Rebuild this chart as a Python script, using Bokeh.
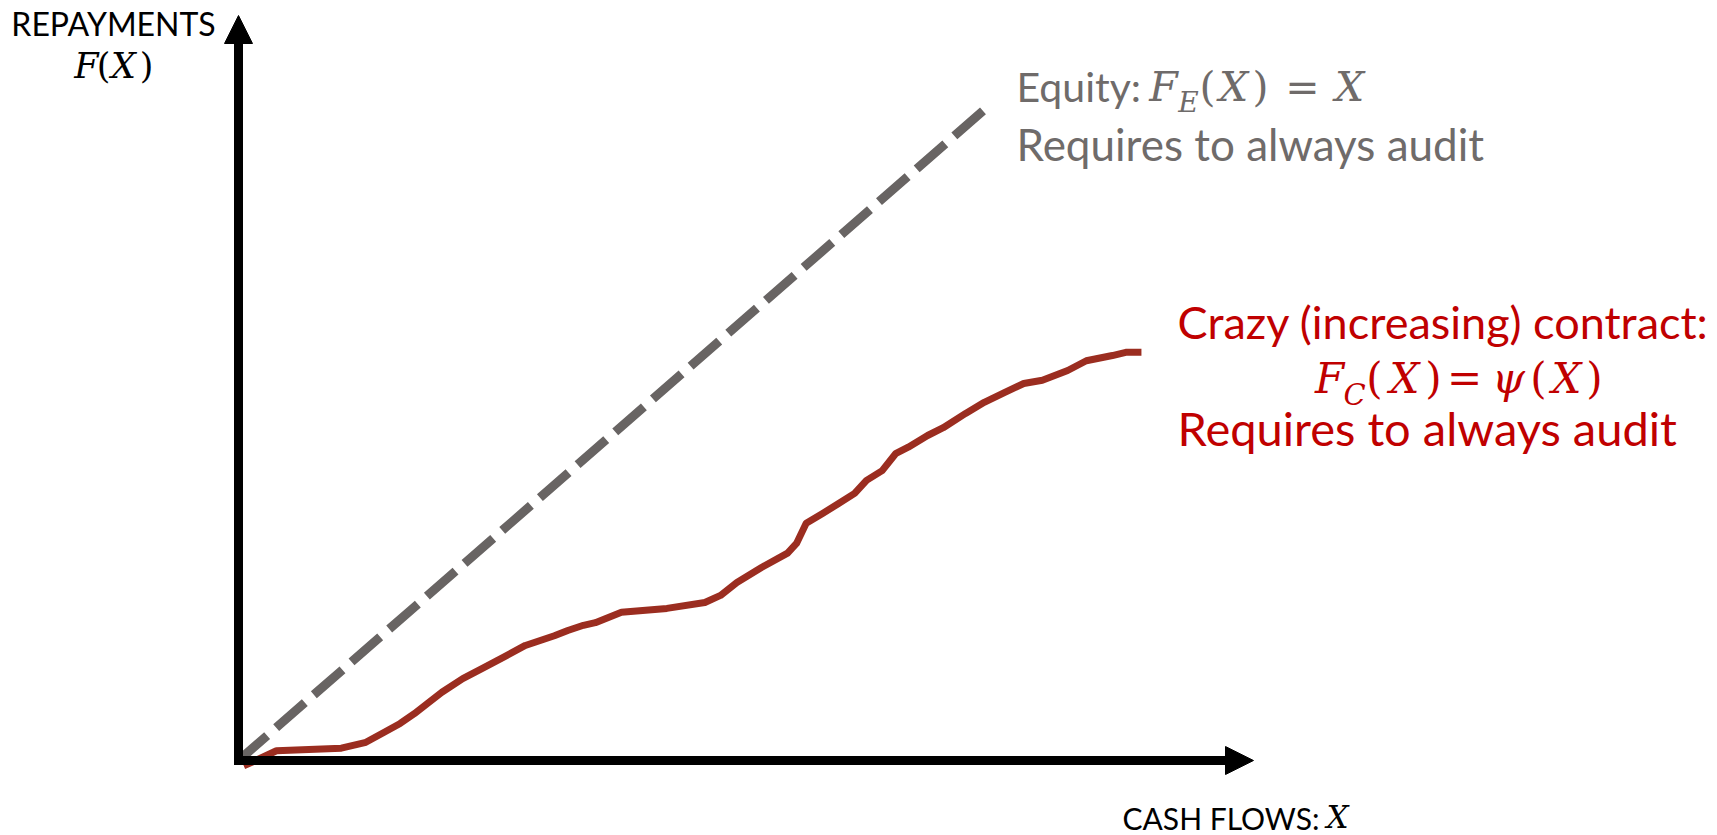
from bokeh.plotting import figure
from bokeh.models import Range1d, Arrow, NormalHead, Label
from bokeh.embed import file_html
from bokeh.resources import INLINE

# ---------------- data ----------------
# Equity contract F_E(X) = X
equity_x = [0.0, 10.0]
equity_f = [0.0, 10.0]

# "Crazy" increasing contract psi(X)
crazy_x = [0.07, 0.23, 0.51, 1.38, 1.71, 1.95, 2.17, 2.36, 2.54, 2.73, 3.01, 3.28,
           3.56, 3.85, 4.24, 4.42, 4.63, 4.79, 5.14, 5.75, 6.26, 6.47, 6.69, 7.02,
           7.37, 7.49, 7.62, 7.84, 8.05, 8.27, 8.43, 8.64, 8.82, 8.99, 9.25, 9.46,
           9.76, 10.01, 10.28, 10.54, 10.79, 11.13, 11.38, 11.73, 11.91, 12.12]
crazy_f = [-0.08, 0.00, 0.15, 0.19, 0.28, 0.43, 0.57, 0.72, 0.88, 1.05, 1.26, 1.42,
           1.59, 1.77, 1.92, 2.00, 2.08, 2.12, 2.28, 2.34, 2.43, 2.54, 2.74, 2.97,
           3.19, 3.34, 3.65, 3.80, 3.95, 4.11, 4.31, 4.46, 4.72, 4.82, 5.00, 5.12,
           5.34, 5.51, 5.66, 5.80, 5.85, 6.00, 6.15, 6.23, 6.28, 6.28]

# ---------------- layout ----------------
W, H = 1717, 835
OX, OY = 238.0, 760.0      # page pixel of the origin
SX, SY = 74.5, 65.0        # pixels per data unit


def X(px):
    return (px - OX) / SX


def Y(py):
    return (OY - py) / SY


p = figure(width=W, height=H, output_backend="svg", toolbar_location=None,
           x_range=Range1d(X(0), X(W)), y_range=Range1d(Y(H), Y(0)),
           x_axis_type=None, y_axis_type=None, min_border=0)
p.grid.visible = False
p.outline_line_color = None
p.background_fill_color = "white"
p.border_fill_color = "white"

# axes as arrows
p.add_layout(Arrow(end=NormalHead(size=28, fill_color="black", line_color="black", line_width=1),
                   x_start=X(234), y_start=Y(760), x_end=X(1253), y_end=Y(760),
                   line_width=9, line_color="black"))
p.add_layout(Arrow(end=NormalHead(size=28, fill_color="black", line_color="black", line_width=1),
                   x_start=X(238), y_start=Y(764.5), x_end=X(238), y_end=Y(15),
                   line_width=9, line_color="black"))

GRAY_LINE = "#686463"
GRAY_TXT = "#6F6B6A"
RED_LINE = "#9B2D20"
RED_TXT = "#C00000"

p.line(equity_x, equity_f, line_color=GRAY_LINE, line_width=9, line_dash="38 12", line_cap="butt")
p.line(crazy_x, crazy_f, line_color=RED_LINE, line_width=7, line_join="round", line_cap="butt")

SANS = "Lato"
SERIF = "DejaVu Serif"
K = 0.33   # baseline correction (fraction of font size)


def lab(px, py, text, size, color="black", font=SANS, style="normal", align="left"):
    p.add_layout(Label(x=X(px), y=Y(py - K * size), text=text, text_font=font,
                       text_font_size=f"{size}px", text_font_style=style,
                       text_color=color, text_align=align, text_baseline="alphabetic"))


# y-axis title
lab(113, 34, "REPAYMENTS", 32, align="center")
for cx, t, st in [(86, "F", "italic"), (103, "(", "normal"), (123, "X", "italic"), (146, ")", "normal")]:
    lab(cx, 77, t, 35, font=SERIF, style=st, align="center")

# x-axis title
lab(1122, 827, "CASH FLOWS:", 30)
lab(1337, 827, "X", 31, font=SERIF, style="italic", align="center")

# equity annotation
lab(1016, 100, "Equity:", 41, color=GRAY_TXT)
for cx, t, st, sz, by in [(1163, "F", "italic", 41, 100), (1188, "E", "italic", 28, 111),
                          (1207, "(", "normal", 41, 100), (1233, "X", "italic", 41, 100),
                          (1260, ")", "normal", 41, 100), (1302, "=", "normal", 41, 100),
                          (1349, "X", "italic", 41, 100)]:
    lab(cx, by, t, sz, color=GRAY_TXT, font=SERIF, style=st, align="center")
lab(1016, 158, "Requires to always audit", 44, color=GRAY_TXT)

# crazy contract annotation
lab(1177, 336, "Crazy (increasing) contract:", 45, color=RED_TXT)
for cx, t, st, sz, by in [(1329, "F", "italic", 42, 392), (1354, "C", "italic", 29, 404),
                          (1374, "(", "normal", 42, 392), (1404, "X", "italic", 42, 392),
                          (1433, ")", "normal", 42, 392), (1464, "=", "normal", 42, 392),
                          (1508, "ψ", "italic", 42, 392), (1538, "(", "normal", 42, 392),
                          (1566, "X", "italic", 42, 392), (1594, ")", "normal", 42, 392)]:
    lab(cx, by, t, sz, color=RED_TXT, font=SERIF, style=st, align="center")
lab(1177, 443, "Requires to always audit", 47, color=RED_TXT)

open("out.html", "w").write(file_html(p, INLINE))
